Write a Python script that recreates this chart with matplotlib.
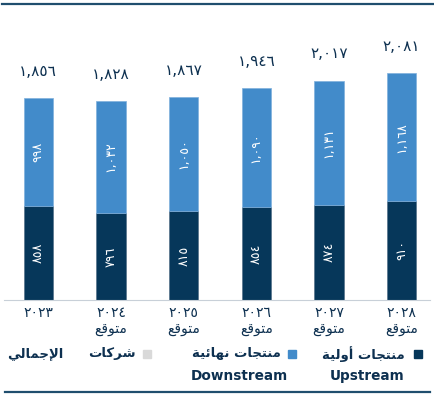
"""Upstream / downstream stacked bars (Arabic labels)."""
import matplotlib
matplotlib.use("Agg")
import matplotlib.pyplot as plt
from matplotlib.patches import Rectangle
from matplotlib.lines import Line2D

# ---- data -------------------------------------------------------------
years = ["٢٠٢٣", "٢٠٢٤", "٢٠٢٥", "٢٠٢٦", "٢٠٢٧", "٢٠٢٨"]
forecast = [False, True, True, True, True, True]
upstream = [858, 796, 815, 854, 874, 910]
downstream = [998, 1032, 1050, 1090, 1131, 1168]
totals = [1856, 1828, 1867, 1946, 2017, 2081]

# matplotlib has no Arabic shaping, so words are written in presentation
# forms, already in visual (left-to-right) order
FORECAST = "\ufeca\ufed7\ufeee\ufe98\ufee3"                       # متوقع
LBL_UP = ("\ufe94\ufef4\ufedf\ufeed\ufe83" + " " +
          "\ufe95\ufe8e\ufea0\ufe98\ufee8\ufee3")                  # منتجات أولية
LBL_DOWN = ("\ufe94\ufef4\ufe8b\ufe8e\ufeec\ufee7" + " " +
            "\ufe95\ufe8e\ufea0\ufe98\ufee8\ufee3")                # منتجات نهائية
LBL_COMP = "\ufe95\ufe8e\ufedb\ufeae\ufeb7"                        # شركات
LBL_TOTAL = "\ufef2\ufedf\ufe8e\ufee4\ufe9f\ufef9\ufe8d"           # الإجمالي

DIGITS = str.maketrans("0123456789", "٠١٢٣٤٥٦٧٨٩")


def ar(n):
    return f"{n:,}".translate(DIGITS)


C_UP = "#06375a"
C_DOWN = "#428bca"
C_COMP = "#d9d9d9"
C_TEXT = "#0d3050"

W, H = 435, 394
fig = plt.figure(figsize=(W / 100, H / 100), dpi=100)
plt.rcParams["font.family"] = ["DejaVu Sans"]


def fx(x):
    return x / W


def fy(y):
    return 1 - y / H


ax = fig.add_axes([fx(2), fy(300), fx(438) - fx(2), fy(40) - fy(300)])
x = list(range(len(years)))
bw = 0.4
ax.bar(x, upstream, bw, color=C_UP, edgecolor="#56728a", lw=0.5)
ax.bar(x, downstream, bw, bottom=upstream, color=C_DOWN,
       edgecolor="#7fb0dc", lw=0.5)

for i in x:
    ax.text(i, upstream[i] / 2, ar(upstream[i]), rotation=90, color="white",
            ha="center", va="center", fontsize=9)
    ax.text(i, upstream[i] + downstream[i] / 2, ar(downstream[i]),
            rotation=90, color="white", ha="center", va="center", fontsize=9)
    ax.text(i, totals[i] + 240, ar(totals[i]), color=C_TEXT, ha="center",
            va="center", fontsize=11)

ax.set_xlim(-0.5, 5.5)
ax.set_ylim(0, 2385)
ax.axis("off")

# x labels
for i in x:
    cx = fx(2) + (i + 0.5) * (fx(438) - fx(2)) / 6
    fig.text(cx, fy(313), years[i], ha="center", va="center", color=C_TEXT,
             fontsize=10)
    if forecast[i]:
        fig.text(cx, fy(329), FORECAST, ha="center", va="center",
                 color=C_TEXT, fontsize=10)

# rules
fig.add_artist(Line2D([fx(4), fx(430)], [fy(300), fy(300)], color="#c8d0d8",
                      lw=0.8))
fig.add_artist(Line2D([fx(2), fx(435)], [fy(4), fy(4)], color="#1f4e6e",
                      lw=1.6))
fig.add_artist(Line2D([fx(5), fx(430)], [fy(392), fy(392)], color="#1f4e6e",
                      lw=1.6))

# legend
for sx, col in [(414, C_UP), (288, C_DOWN), (143, C_COMP)]:
    fig.add_artist(Rectangle((fx(sx), fy(358)), fx(8), 8 / H, color=col,
                             transform=fig.transFigure))
fig.text(fx(405), fy(354), LBL_UP, ha="right", va="center", color=C_TEXT,
         fontsize=9.5, fontweight="bold")
fig.text(fx(405), fy(376), "Upstream", ha="right", va="center", color=C_TEXT,
         fontsize=9.8, fontweight="bold")
fig.text(fx(281), fy(354), LBL_DOWN, ha="right", va="center", color=C_TEXT,
         fontsize=9.5, fontweight="bold")
fig.text(fx(288), fy(376), "Downstream", ha="right", va="center",
         color=C_TEXT, fontsize=9.8, fontweight="bold")
fig.text(fx(136), fy(354), LBL_COMP, ha="right", va="center", color=C_TEXT,
         fontsize=9.5, fontweight="bold")
fig.text(fx(63), fy(354), LBL_TOTAL, ha="right", va="center", color=C_TEXT,
         fontsize=9.5, fontweight="bold")

fig.savefig("out.png", dpi=100)
